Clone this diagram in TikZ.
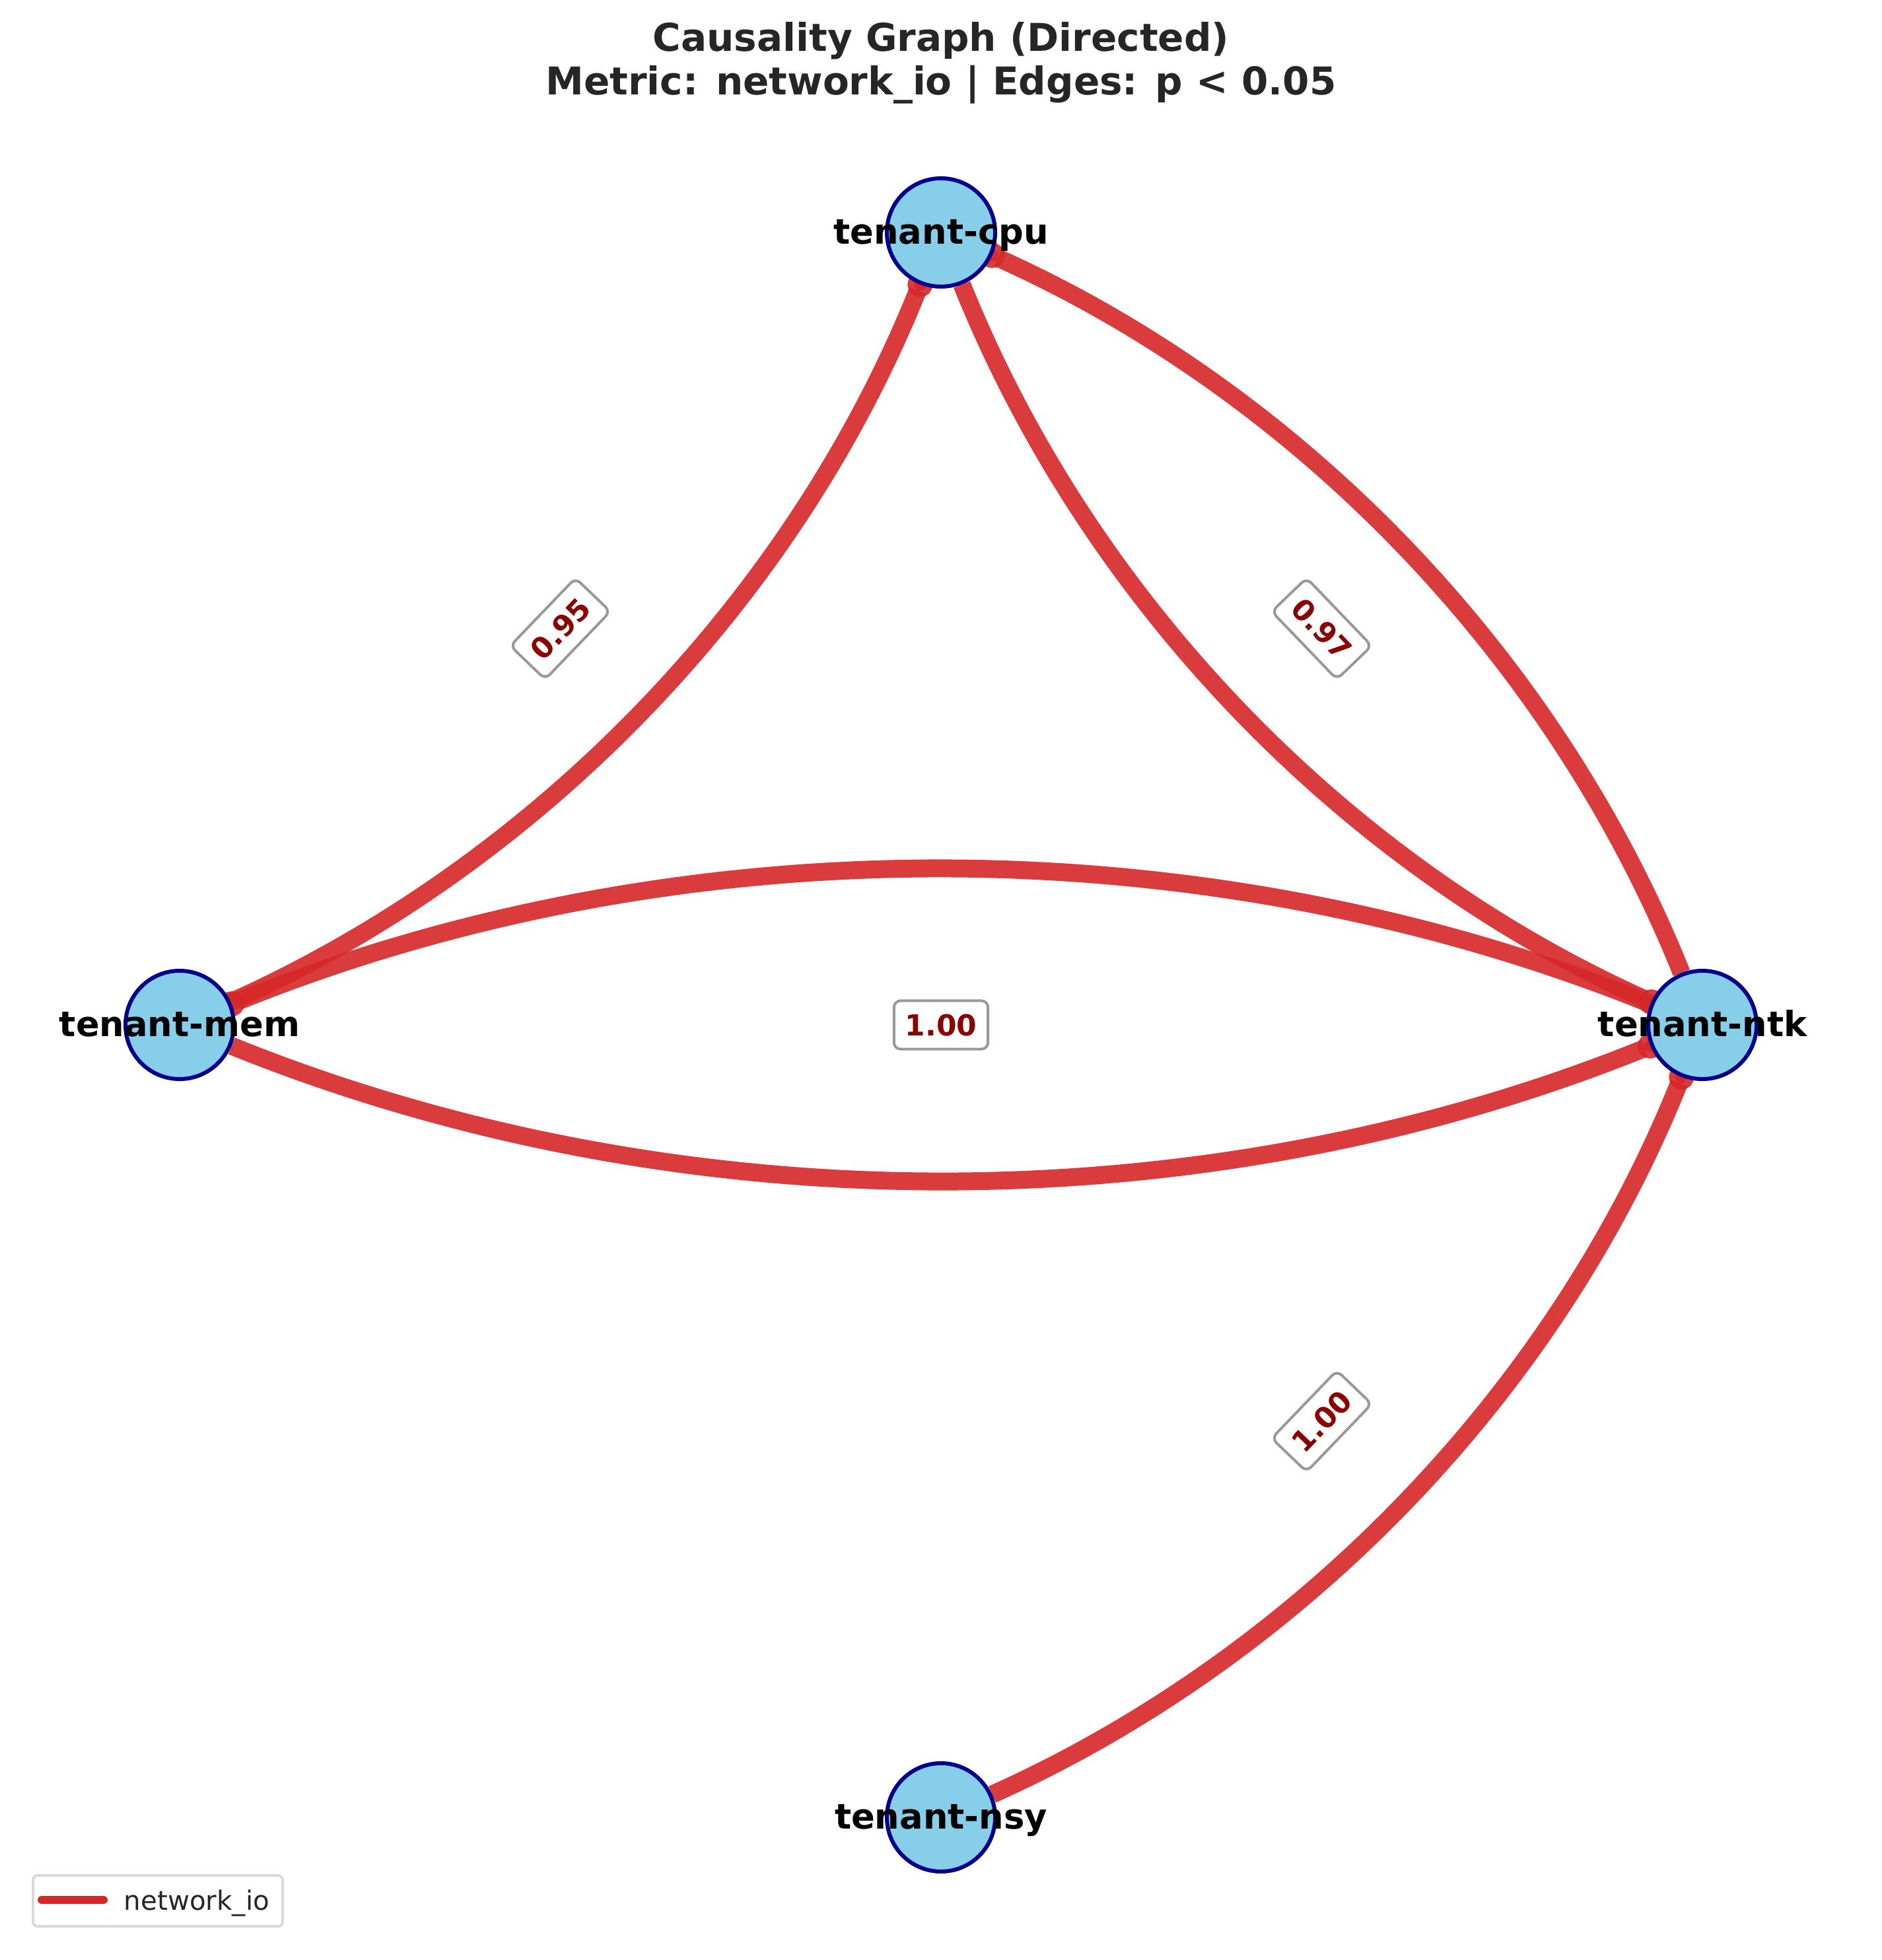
\documentclass[tikz,border=0pt]{standalone}
\usepackage{fontspec}
\setmainfont{DejaVu Sans}
\usetikzlibrary{arrows.meta,backgrounds}
\definecolor{edgered}{HTML}{D62728}
\definecolor{nodeblue}{HTML}{87CEEB}
\definecolor{rimblue}{HTML}{00008B}
\definecolor{pvalred}{HTML}{8B0000}
\definecolor{titlegray}{HTML}{262626}
\definecolor{boxgray}{HTML}{999999}
\definecolor{legendgray}{HTML}{D9D9D9}

\begin{document}
\begin{tikzpicture}[
        tenant/.style={circle,fill=nodeblue,draw=rimblue,line width=0.06cm,minimum size=1.64cm,inner sep=0pt},
        tname/.style={font=\fontsize{15}{18}\selectfont\bfseries,text height=0.76em,text depth=0.23em,inner sep=0pt,yshift=-0.08cm},
        causal/.style={edgered,opacity=0.9,line width=0.27cm,-{Circle[length=0.38cm]},shorten >=-0.19cm,bend right=22,looseness=0.87},
        pval/.style={sloped,fill=white,draw=boxgray,line width=0.04cm,rounded corners=0.1cm,text=pvalred,
            font=\fontsize{12.5}{15}\selectfont\bfseries,inner xsep=0.17cm,inner ysep=0.2cm}
    ]
    \useasboundingbox (0,0) rectangle (28.5,-29.68);
    \node[anchor=north,align=center,inner sep=0pt,text=titlegray,font=\fontsize{16.5}{18.8}\selectfont\bfseries] (title) at (14.25,-0.33)
        {Causality Graph (Directed)\\Metric: network\_io | Edges: p < 0.05};

    \node[tenant,label={[tname]center:tenant-cpu}] (cpu) at (14.25,-3.52) {};
    \node[tenant,label={[tname]center:tenant-mem}] (mem) at (2.72,-15.52) {};
    \node[tenant,label={[tname]center:tenant-ntk}] (ntk) at (25.78,-15.52) {};
    \node[tenant,label={[tname]center:tenant-nsy}] (nsy) at (14.25,-27.52) {};

    \begin{scope}[on background layer]
        \draw[causal] (mem) to (cpu);
        \draw[causal] (cpu) to (ntk);
        \draw[causal] (ntk) to (cpu);
        \draw[causal] (mem) to (ntk);
        \draw[causal] (ntk) to (mem);
        \draw[causal] (nsy) to (ntk);
    \end{scope}

    \path (mem) -- node[pval] {0.95} (cpu);
    \path (cpu) -- node[pval] {0.97} (ntk);
    \path (mem) -- node[pval] {1.00} (ntk);
    \path (nsy) -- node[pval] {1.00} (ntk);

    \draw[legendgray,line width=0.04cm,rounded corners=0.07cm] (0.5,-28.40) rectangle (4.28,-29.17);
    \coordinate (legA) at (0.63,-28.77);
    \coordinate (legB) at (1.57,-28.77);
    \draw[edgered,line width=0.12cm,line cap=round] (legA) -- (legB);
    \node[anchor=base west,inner sep=0pt,text=titlegray,font=\fontsize{11.5}{14}\selectfont] (legtext) at (1.87,-28.92) {network\_io};
\end{tikzpicture}
\end{document}
